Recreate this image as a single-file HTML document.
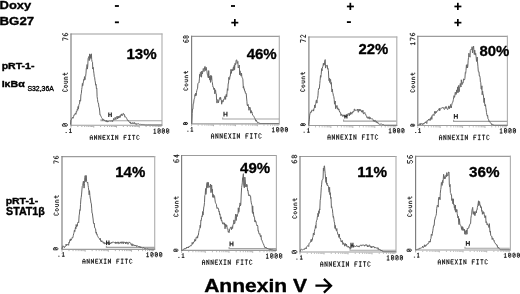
<!DOCTYPE html>
<html><head><meta charset="utf-8"><style>
html,body{margin:0;padding:0;background:#fff;}
body{width:520px;height:294px;overflow:hidden;}
svg{display:block;filter:grayscale(100%);}
</style></head><body>
<svg width="520" height="294" viewBox="0 0 520 294">
<rect width="520" height="294" fill="#fff"/>
<text transform="translate(-0.43,8.71) scale(0.1297,0.1164)" font-family="Liberation Sans" font-weight="bold" font-size="100" fill="#000" stroke="#000" stroke-width="3.006134969325154" stroke-linejoin="round">Doxy</text>
<text transform="translate(-0.45,24.91) scale(0.1326,0.1106)" font-family="Liberation Sans" font-weight="bold" font-size="100" fill="#000" stroke="#000" stroke-width="3.165605095541402" stroke-linejoin="round">BG27</text>
<rect x="114.9" y="5.1" width="4.0" height="1.8" fill="#000"/>
<rect x="114.9" y="21.4" width="4.0" height="1.8" fill="#000"/>
<rect x="231.0" y="5.1" width="4.0" height="1.8" fill="#000"/>
<rect x="231.3" y="21.8" width="7" height="1.7" fill="#000"/><rect x="234.0" y="19.0" width="1.7" height="7.2" fill="#000"/>
<rect x="346.9" y="5.6" width="7" height="1.7" fill="#000"/><rect x="349.5" y="2.8" width="1.7" height="7.2" fill="#000"/>
<rect x="346.9" y="21.2" width="4.0" height="1.8" fill="#000"/>
<rect x="454.4" y="5.6" width="7" height="1.7" fill="#000"/><rect x="457.0" y="2.8" width="1.7" height="7.2" fill="#000"/>
<rect x="454.4" y="21.8" width="7" height="1.7" fill="#000"/><rect x="457.0" y="19.0" width="1.7" height="7.2" fill="#000"/>
<text transform="translate(1.63,68.92) scale(0.1058,0.0920)" font-family="Liberation Sans" font-weight="bold" font-size="100" fill="#000" stroke="#000" stroke-width="3.8031496062992116" stroke-linejoin="round">pRT-1-</text>
<text transform="translate(1.63,87.13) scale(0.1065,0.0936)" font-family="Liberation Sans" font-weight="bold" font-size="100" fill="#000" stroke="#000" stroke-width="3.7404580152671687" stroke-linejoin="round">IκBα</text>
<text transform="translate(27.46,90.60) scale(0.0688,0.0671)" font-family="Liberation Sans" font-weight="normal" font-size="100" fill="#000" stroke="#000" stroke-width="5" stroke-linejoin="round">S32,36A</text>
<text transform="translate(5.64,203.52) scale(0.1048,0.0964)" font-family="Liberation Sans" font-weight="bold" font-size="100" fill="#000" stroke="#000" stroke-width="3.6315789473684332" stroke-linejoin="round">pRT-1-</text>
<text transform="translate(6.05,215.42) scale(0.1069,0.1007)" font-family="Liberation Sans" font-weight="bold" font-size="100" fill="#000" stroke="#000" stroke-width="3.475524475524486" stroke-linejoin="round">STAT1β</text>
<text transform="translate(204.14,292.14) scale(0.2104,0.1884)" font-family="Liberation Sans" font-weight="bold" font-size="100" fill="#000" stroke="#000" stroke-width="1.858181818181818" stroke-linejoin="round">Annexin V</text>
<path d="M315.4,285.7 H330.5 M323.9,278.9 L331.0,285.7 L323.9,292.6" fill="none" stroke="#000" stroke-width="2.3" stroke-linecap="butt" stroke-linejoin="miter"/>
<path d="M70.5,34.0 H162.5 M70.5,125.2 H162.5" stroke="#9c9c9c" stroke-width="1.15" fill="none"/>
<path d="M71.0,33.5 V125.7" stroke="#7c7c7c" stroke-width="1.15" fill="none"/>
<path d="M162.0,33.5 V125.7" stroke="#b0b0b0" stroke-width="1.15" fill="none"/>
<path d="M101.0,119.2 V120.7 H162.0" fill="none" stroke="#a4a4a4" stroke-width="1.15"/>
<polyline points="70.5,124.5 70.9,120.1 71.2,119.9 71.6,119.3 71.9,118.3 72.3,117.7 72.7,117.2 73.0,118.3 73.4,117.0 73.7,116.3 74.1,114.7 74.5,114.9 74.8,114.9 75.2,113.5 75.5,113.1 75.9,114.3 76.3,111.7 76.6,112.1 77.0,110.4 77.3,109.2 77.7,110.3 78.1,106.5 78.4,108.8 78.8,105.3 79.1,104.4 79.5,103.9 79.9,100.0 80.2,101.3 80.6,100.7 80.9,95.0 81.3,93.6 81.7,89.5 82.0,87.5 82.4,83.4 82.7,85.8 83.1,83.7 83.5,81.1 83.8,79.4 84.2,80.2 84.5,76.6 84.9,79.8 85.3,77.4 85.6,76.5 86.0,73.1 86.3,68.3 86.7,68.4 87.1,64.5 87.4,69.1 87.8,65.6 88.1,58.6 88.5,57.4 88.9,56.5 89.2,60.6 89.6,53.9 89.9,59.3 90.3,54.6 90.7,58.0 91.0,56.0 91.4,53.8 91.7,59.6 92.1,61.6 92.5,62.2 92.8,69.0 93.2,67.3 93.5,70.2 93.9,73.2 94.3,76.8 94.6,77.2 95.0,80.6 95.3,82.0 95.7,85.2 96.1,84.4 96.4,88.6 96.8,88.0 97.1,96.7 97.5,99.3 97.9,102.3 98.2,102.7 98.6,104.1 98.9,107.0 99.3,107.8 99.7,111.0 100.0,115.1 100.4,114.9 100.7,115.7 101.1,116.5 101.5,117.5 101.8,117.9 102.2,118.4 102.5,120.4 102.9,120.0 103.3,119.4 103.6,119.2 104.0,120.8 104.3,120.8 104.7,120.2 105.1,120.4 105.4,120.9 105.8,121.5 106.1,120.5 106.5,120.5 106.9,122.0 107.2,122.1 107.6,120.9 107.9,121.2 108.3,121.9 108.7,121.5 109.0,121.3 109.4,120.8 109.7,121.1 110.1,121.1 110.5,121.0 110.8,121.2 111.2,121.2 111.5,121.2 111.9,120.6 112.3,121.3 112.6,121.7 113.0,120.0 113.3,120.0 113.7,118.4 114.1,119.2 114.4,119.7 114.8,119.6 115.1,117.3 115.5,117.9 115.9,119.6 116.2,118.5 116.6,117.7 116.9,116.4 117.3,117.7 117.7,119.0 118.0,116.1 118.4,117.9 118.7,116.6 119.1,117.8 119.5,116.4 119.8,115.7 120.2,117.4 120.5,116.3 120.9,114.7 121.3,115.4 121.6,113.9 122.0,115.2 122.3,115.6 122.7,115.4 123.1,113.4 123.4,113.4 123.8,114.4 124.1,114.1 124.5,114.5 124.9,117.2 125.2,117.1 125.6,116.8 125.9,117.1 126.3,117.7 126.7,118.5 127.0,119.5 127.4,119.6 127.7,120.2 128.1,121.0 128.5,120.7 128.8,121.6 129.2,121.8 129.5,121.9 129.9,122.7 130.3,121.9 130.6,123.4 131.0,122.8 131.3,123.7 131.7,123.2 132.1,123.6 132.4,123.5 132.8,122.5 133.1,123.5 133.5,123.3 133.9,123.6 134.2,122.8 134.6,122.5 134.9,124.0 135.3,124.2 135.7,124.0 136.0,123.3 136.4,123.8 136.7,124.6 137.1,124.3 137.5,123.8 137.8,124.0 138.2,123.6 138.5,124.0 138.9,124.2 139.3,124.4 139.6,124.4 140.0,124.6 140.3,124.4 140.7,124.2 141.1,124.6 141.4,124.5 141.8,124.4 142.1,124.3 142.5,124.5 142.9,124.6 143.2,124.5 143.6,124.6 143.9,124.7 144.3,124.8 144.7,124.6 145.0,124.8 145.4,124.9 145.7,124.8 146.1,124.8 146.5,124.9 146.8,124.8 147.2,124.9 147.5,124.9 147.9,124.8 148.3,124.8 148.6,124.8 149.0,124.8 149.3,124.8 149.7,124.9 150.1,124.8 150.4,124.8 150.8,124.9 151.1,124.9 151.5,124.9 151.9,124.9 152.2,124.9 152.6,124.9 152.9,124.9 153.3,124.9 153.7,124.9 154.0,124.9 154.4,124.9 154.7,124.9 155.1,124.9 155.5,124.9 155.8,124.9 156.2,124.9 156.5,124.9 156.9,124.9 157.3,124.9 157.6,124.9 158.0,124.9 158.3,124.9 158.7,124.9 159.1,124.9 159.4,124.9 159.8,124.9 160.1,124.9 160.5,124.9 160.9,124.9 161.2,124.9 161.6,124.9 161.9,124.9" fill="none" stroke="#666" stroke-width="1.0" stroke-linejoin="round" opacity="1.0"/>
<text transform="translate(126.45,59.30) scale(0.1508,0.1451)" font-family="Liberation Sans" font-weight="bold" font-size="100" fill="#000" stroke="#000" stroke-width="2.0679611650485428" stroke-linejoin="round">13%</text>
<path d="M71.00,126.00 v1.6 M77.85,126.00 v1.0 M81.85,126.00 v1.0 M84.70,126.00 v1.0 M86.90,126.00 v1.0 M88.70,126.00 v1.0 M90.23,126.00 v1.0 M91.55,126.00 v1.0 M92.71,126.00 v1.0 M93.75,126.00 v1.6 M100.60,126.00 v1.0 M104.60,126.00 v1.0 M107.45,126.00 v1.0 M109.65,126.00 v1.0 M111.45,126.00 v1.0 M112.98,126.00 v1.0 M114.30,126.00 v1.0 M115.46,126.00 v1.0 M116.50,126.00 v1.6 M123.35,126.00 v1.0 M127.35,126.00 v1.0 M130.20,126.00 v1.0 M132.40,126.00 v1.0 M134.20,126.00 v1.0 M135.73,126.00 v1.0 M137.05,126.00 v1.0 M138.21,126.00 v1.0 M139.25,126.00 v1.6 M146.10,126.00 v1.0 M150.10,126.00 v1.0 M152.95,126.00 v1.0 M155.15,126.00 v1.0 M156.95,126.00 v1.0 M158.48,126.00 v1.0 M159.80,126.00 v1.0 M160.96,126.00 v1.0" stroke="#9a9a9a" stroke-width="0.8" fill="none"/>
<path transform="matrix(0,-1.1417,1.2375,0,62.775,40.225)" d="M0,0 H2 V0.5 L0.8,4 M5.8,0 H4.7 L4,0.8 V3.5 L4.5,4 H5.5 L6,3.5 V2.3 L5.5,1.8 H4" fill="none" stroke="#2a2a2a" stroke-width="0.95" vector-effect="non-scaling-stroke" stroke-linecap="square" stroke-linejoin="miter"/>
<path transform="matrix(0,-1.0083,1.2125,0,62.575,91.325)" d="M2,0.6 L1.5,0 H0.5 L0,0.6 V3.4 L0.5,4 H1.5 L2,3.4 M4.5,1.5 H5.5 L6,2 V3.5 L5.5,4 H4.5 L4,3.5 V2 Z M8,1.5 V3.5 L8.5,4 H10 V1.5 M12,4 V1.5 H13.5 L14,2 V4 M16.9,0.4 V3.5 L17.4,4 H18 M16,1.5 H17.9" fill="none" stroke="#2a2a2a" stroke-width="0.95" vector-effect="non-scaling-stroke" stroke-linecap="square" stroke-linejoin="miter"/>
<path transform="matrix(1.0576,0,0,1.0125,90.275,135.375)" d="M0,4 V1 L0.7,0 H1.3 L2,1 V4 M0,2.3 H2 M4,4 V0 L6,4 V0 M8,4 V0 L10,4 V0 M14,0 H12 V4 H14 M12,2 H13.5 M16,0 L18,4 M18,0 L16,4 M20.2,0 H21.8 M21,0 V4 M20.2,4 H21.8 M24,4 V0 L26,4 V0 M34,0 H32 V4 M32,2 H33.5 M36.2,0 H37.8 M37,0 V4 M36.2,4 H37.8 M40,0 H42 M41,0 V4 M46,0.6 L45.5,0 H44.5 L44,0.6 V3.4 L44.5,4 H45.5 L46,3.4" fill="none" stroke="#2a2a2a" stroke-width="0.95" vector-effect="non-scaling-stroke" stroke-linecap="square" stroke-linejoin="miter"/>
<path transform="matrix(1.0714,0,0,0.9875,65.111,128.575)" d="M0.9,4 H1.1 M4.3,0.8 L5,0 V4 M4.2,4 H5.8" fill="none" stroke="#2a2a2a" stroke-width="0.95" vector-effect="non-scaling-stroke" stroke-linecap="square" stroke-linejoin="miter"/>
<path transform="matrix(1.0688,0,0,1.1375,153.761,128.775)" d="M0.3,0.8 L1,0 V4 M0.2,4 H1.8 M4.5,0 H5.5 L6,0.5 V3.5 L5.5,4 H4.5 L4,3.5 V0.5 Z M5.6,1 L4.4,3 M8.5,0 H9.5 L10,0.5 V3.5 L9.5,4 H8.5 L8,3.5 V0.5 Z M9.6,1 L8.4,3 M12.5,0 H13.5 L14,0.5 V3.5 L13.5,4 H12.5 L12,3.5 V0.5 Z M13.6,1 L12.4,3" fill="none" stroke="#2a2a2a" stroke-width="0.95" vector-effect="non-scaling-stroke" stroke-linecap="square" stroke-linejoin="miter"/>
<path transform="matrix(0,-1.2250,1.2125,0,62.475,126.125)" d="M0.5,0 H1.5 L2,0.5 V3.5 L1.5,4 H0.5 L0,3.5 V0.5 Z M1.6,1 L0.4,3" fill="none" stroke="#2a2a2a" stroke-width="0.95" vector-effect="non-scaling-stroke" stroke-linecap="square" stroke-linejoin="miter"/>
<path transform="matrix(1.2750,0,0,0.8125,108.775,113.075)" d="M0,0 V4 M2,0 V4 M0,2 H2" fill="none" stroke="#2a2a2a" stroke-width="1.15" vector-effect="non-scaling-stroke" stroke-linecap="square" stroke-linejoin="miter"/>
<path d="M191.1,36.3 H279.8 M191.1,123.8 H279.8" stroke="#9c9c9c" stroke-width="1.15" fill="none"/>
<path d="M191.6,35.8 V124.3" stroke="#7c7c7c" stroke-width="1.15" fill="none"/>
<path d="M279.3,35.8 V124.3" stroke="#b0b0b0" stroke-width="1.15" fill="none"/>
<path d="M222.7,117.5 V119.0 H279.3" fill="none" stroke="#a4a4a4" stroke-width="1.15"/>
<polyline points="191.8,123.5 192.2,113.6 192.5,109.0 192.9,109.2 193.2,103.6 193.6,103.6 194.0,99.8 194.3,98.8 194.7,97.4 195.0,94.5 195.4,95.9 195.8,93.0 196.1,95.6 196.5,92.3 196.8,90.5 197.2,89.3 197.6,88.2 197.9,83.7 198.3,83.1 198.6,82.8 199.0,82.9 199.4,78.9 199.7,74.3 200.1,76.6 200.4,72.5 200.8,71.9 201.2,72.7 201.5,77.2 201.9,71.0 202.2,74.0 202.6,72.7 203.0,70.3 203.3,68.5 203.7,69.3 204.0,71.6 204.4,69.2 204.8,66.6 205.1,66.4 205.5,70.5 205.8,68.6 206.2,67.3 206.6,70.0 206.9,70.9 207.3,74.1 207.6,75.2 208.0,76.9 208.4,77.9 208.7,70.6 209.1,77.8 209.4,76.2 209.8,80.1 210.2,76.5 210.5,82.4 210.9,75.2 211.2,79.6 211.6,76.0 212.0,81.5 212.3,82.2 212.7,85.3 213.0,87.1 213.4,87.2 213.8,89.5 214.1,88.8 214.5,88.1 214.8,93.8 215.2,89.8 215.6,90.2 215.9,93.7 216.3,93.8 216.6,100.5 217.0,103.1 217.4,100.2 217.7,99.6 218.1,100.5 218.4,102.8 218.8,101.0 219.2,99.6 219.5,98.4 219.9,97.5 220.2,99.5 220.6,97.3 221.0,99.5 221.3,100.3 221.7,104.2 222.0,100.2 222.4,102.1 222.8,101.9 223.1,102.0 223.5,99.8 223.8,99.0 224.2,99.4 224.6,97.1 224.9,96.2 225.3,96.4 225.6,99.4 226.0,94.7 226.4,94.3 226.7,96.8 227.1,92.0 227.4,88.7 227.8,90.4 228.2,83.3 228.5,83.5 228.9,77.3 229.2,79.4 229.6,79.4 230.0,75.9 230.3,76.0 230.7,71.7 231.0,69.3 231.4,73.4 231.8,69.9 232.1,69.3 232.5,69.5 232.8,71.0 233.2,67.8 233.6,66.8 233.9,70.2 234.3,65.1 234.6,69.6 235.0,63.4 235.4,64.9 235.7,64.4 236.1,60.7 236.4,59.9 236.8,59.9 237.2,63.5 237.5,62.3 237.9,61.5 238.2,68.0 238.6,67.2 239.0,66.8 239.3,65.0 239.7,74.8 240.0,70.8 240.4,74.4 240.8,73.8 241.1,76.1 241.5,73.1 241.8,76.4 242.2,77.6 242.6,78.4 242.9,79.7 243.3,88.0 243.6,86.2 244.0,89.2 244.4,88.8 244.7,91.1 245.1,91.0 245.4,93.4 245.8,93.2 246.2,93.3 246.5,97.0 246.9,101.2 247.2,105.0 247.6,106.0 248.0,104.3 248.3,105.3 248.7,108.5 249.0,110.3 249.4,107.3 249.8,108.2 250.1,107.5 250.5,110.9 250.8,113.2 251.2,110.5 251.6,112.6 251.9,111.9 252.3,113.4 252.6,115.0 253.0,115.3 253.4,115.8 253.7,116.4 254.1,116.6 254.4,117.5 254.8,118.4 255.2,119.0 255.5,120.0 255.9,121.2 256.2,120.1 256.6,120.8 257.0,122.1 257.3,122.1 257.7,122.8 258.0,122.6 258.4,122.5 258.8,123.0 259.1,123.4 259.5,123.2 259.8,123.3 260.2,123.5 260.6,123.5 260.9,123.5 261.3,123.5 261.6,123.5 262.0,123.5 262.4,123.5 262.7,123.5 263.1,123.5 263.4,123.5 263.8,123.5 264.2,123.5 264.5,123.5 264.9,123.5 265.2,123.5 265.6,123.5 266.0,123.5 266.3,123.5 266.7,123.5 267.0,123.5 267.4,123.5 267.8,123.5 268.1,123.5 268.5,123.5 268.8,123.5 269.2,123.5 269.6,123.5 269.9,123.5 270.3,123.5 270.6,123.5 271.0,123.5 271.4,123.5 271.7,123.5 272.1,123.5 272.4,123.5 272.8,123.5 273.2,123.5 273.5,123.5 273.9,123.5 274.2,123.5 274.6,123.5 275.0,123.5 275.3,123.5 275.7,123.5 276.0,123.5 276.4,123.5 276.8,123.5 277.1,123.5 277.5,123.5 277.8,123.5 278.2,123.5 278.6,123.5 278.9,123.5" fill="none" stroke="#666" stroke-width="1.0" stroke-linejoin="round" opacity="1.0"/>
<text transform="translate(246.65,59.30) scale(0.1503,0.1451)" font-family="Liberation Sans" font-weight="bold" font-size="100" fill="#000" stroke="#000" stroke-width="2.0679611650485428" stroke-linejoin="round">46%</text>
<path d="M191.60,124.60 v1.6 M198.20,124.60 v1.0 M202.06,124.60 v1.0 M204.80,124.60 v1.0 M206.92,124.60 v1.0 M208.66,124.60 v1.0 M210.13,124.60 v1.0 M211.40,124.60 v1.0 M212.52,124.60 v1.0 M213.53,124.60 v1.6 M220.13,124.60 v1.0 M223.99,124.60 v1.0 M226.73,124.60 v1.0 M228.85,124.60 v1.0 M230.59,124.60 v1.0 M232.05,124.60 v1.0 M233.33,124.60 v1.0 M234.45,124.60 v1.0 M235.45,124.60 v1.6 M242.05,124.60 v1.0 M245.91,124.60 v1.0 M248.65,124.60 v1.0 M250.77,124.60 v1.0 M252.51,124.60 v1.0 M253.98,124.60 v1.0 M255.25,124.60 v1.0 M256.37,124.60 v1.0 M257.38,124.60 v1.6 M263.98,124.60 v1.0 M267.84,124.60 v1.0 M270.58,124.60 v1.0 M272.70,124.60 v1.0 M274.44,124.60 v1.0 M275.90,124.60 v1.0 M277.18,124.60 v1.0 M278.30,124.60 v1.0" stroke="#9a9a9a" stroke-width="0.8" fill="none"/>
<path transform="matrix(0,-1.0250,1.2625,0,183.475,42.125)" d="M1.8,0 H0.7 L0,0.8 V3.5 L0.5,4 H1.5 L2,3.5 V2.3 L1.5,1.8 H0 M4.5,0 H5.5 L6,0.5 V1.5 L5.5,2 H4.5 L4,1.5 V0.5 Z M4.5,2 L4,2.5 V3.5 L4.5,4 H5.5 L6,3.5 V2.5 L5.5,2" fill="none" stroke="#2a2a2a" stroke-width="0.95" vector-effect="non-scaling-stroke" stroke-linecap="square" stroke-linejoin="miter"/>
<path transform="matrix(0,-1.0361,0.9625,0,183.775,90.125)" d="M2,0.6 L1.5,0 H0.5 L0,0.6 V3.4 L0.5,4 H1.5 L2,3.4 M4.5,1.5 H5.5 L6,2 V3.5 L5.5,4 H4.5 L4,3.5 V2 Z M8,1.5 V3.5 L8.5,4 H10 V1.5 M12,4 V1.5 H13.5 L14,2 V4 M16.9,0.4 V3.5 L17.4,4 H18 M16,1.5 H17.9" fill="none" stroke="#2a2a2a" stroke-width="0.95" vector-effect="non-scaling-stroke" stroke-linecap="square" stroke-linejoin="miter"/>
<path transform="matrix(1.0772,0,0,1.1375,211.475,133.675)" d="M0,4 V1 L0.7,0 H1.3 L2,1 V4 M0,2.3 H2 M4,4 V0 L6,4 V0 M8,4 V0 L10,4 V0 M14,0 H12 V4 H14 M12,2 H13.5 M16,0 L18,4 M18,0 L16,4 M20.2,0 H21.8 M21,0 V4 M20.2,4 H21.8 M24,4 V0 L26,4 V0 M34,0 H32 V4 M32,2 H33.5 M36.2,0 H37.8 M37,0 V4 M36.2,4 H37.8 M40,0 H42 M41,0 V4 M46,0.6 L45.5,0 H44.5 L44,0.6 V3.4 L44.5,4 H45.5 L46,3.4" fill="none" stroke="#2a2a2a" stroke-width="0.95" vector-effect="non-scaling-stroke" stroke-linecap="square" stroke-linejoin="miter"/>
<path transform="matrix(1.0102,0,0,0.9875,186.866,127.275)" d="M0.9,4 H1.1 M4.3,0.8 L5,0 V4 M4.2,4 H5.8" fill="none" stroke="#2a2a2a" stroke-width="0.95" vector-effect="non-scaling-stroke" stroke-linecap="square" stroke-linejoin="miter"/>
<path transform="matrix(1.0906,0,0,1.0875,272.257,127.475)" d="M0.3,0.8 L1,0 V4 M0.2,4 H1.8 M4.5,0 H5.5 L6,0.5 V3.5 L5.5,4 H4.5 L4,3.5 V0.5 Z M5.6,1 L4.4,3 M8.5,0 H9.5 L10,0.5 V3.5 L9.5,4 H8.5 L8,3.5 V0.5 Z M9.6,1 L8.4,3 M12.5,0 H13.5 L14,0.5 V3.5 L13.5,4 H12.5 L12,3.5 V0.5 Z M13.6,1 L12.4,3" fill="none" stroke="#2a2a2a" stroke-width="0.95" vector-effect="non-scaling-stroke" stroke-linecap="square" stroke-linejoin="miter"/>
<path transform="matrix(0,-1.0250,1.0125,0,183.475,124.525)" d="M0.5,0 H1.5 L2,0.5 V3.5 L1.5,4 H0.5 L0,3.5 V0.5 Z M1.6,1 L0.4,3" fill="none" stroke="#2a2a2a" stroke-width="0.95" vector-effect="non-scaling-stroke" stroke-linecap="square" stroke-linejoin="miter"/>
<path transform="matrix(1.4750,0,0,0.9125,223.975,112.375)" d="M0,0 V4 M2,0 V4 M0,2 H2" fill="none" stroke="#2a2a2a" stroke-width="1.15" vector-effect="non-scaling-stroke" stroke-linecap="square" stroke-linejoin="miter"/>
<path d="M308.4,37.0 H397.3 M308.4,125.5 H397.3" stroke="#9c9c9c" stroke-width="1.15" fill="none"/>
<path d="M308.9,36.5 V126.0" stroke="#7c7c7c" stroke-width="1.15" fill="none"/>
<path d="M396.8,36.5 V126.0" stroke="#b0b0b0" stroke-width="1.15" fill="none"/>
<path d="M343.6,119.6 V121.1 H396.5" fill="none" stroke="#a4a4a4" stroke-width="1.15"/>
<polyline points="308.6,124.8 309.0,121.6 309.3,119.8 309.7,115.1 310.0,113.8 310.4,112.4 310.8,112.9 311.1,111.6 311.5,112.1 311.8,110.1 312.2,110.4 312.6,110.1 312.9,110.4 313.3,109.7 313.6,111.1 314.0,108.2 314.4,108.0 314.7,105.0 315.1,107.8 315.4,104.1 315.8,103.8 316.2,100.6 316.5,100.1 316.9,103.1 317.2,99.4 317.6,98.3 318.0,95.3 318.3,90.5 318.7,88.6 319.0,89.0 319.4,88.0 319.8,83.4 320.1,80.4 320.5,75.6 320.8,77.3 321.2,74.4 321.6,68.6 321.9,71.0 322.3,68.6 322.6,66.8 323.0,66.2 323.4,63.2 323.7,65.2 324.1,65.0 324.4,64.8 324.8,60.7 325.2,59.6 325.5,68.1 325.9,67.2 326.2,65.4 326.6,65.9 327.0,65.4 327.3,65.3 327.7,69.1 328.0,68.5 328.4,70.6 328.8,78.7 329.1,80.8 329.5,78.0 329.8,82.5 330.2,79.5 330.6,79.3 330.9,84.2 331.3,82.5 331.6,87.1 332.0,92.0 332.4,89.2 332.7,92.5 333.1,93.9 333.4,95.9 333.8,96.6 334.2,99.4 334.5,104.2 334.9,103.0 335.2,101.0 335.6,108.7 336.0,105.7 336.3,107.4 336.7,106.5 337.0,105.5 337.4,109.1 337.8,107.8 338.1,109.1 338.5,110.1 338.8,108.9 339.2,110.3 339.6,112.1 339.9,112.3 340.3,112.2 340.6,112.6 341.0,115.7 341.4,114.1 341.7,114.4 342.1,115.1 342.4,115.4 342.8,116.5 343.2,114.8 343.5,115.9 343.9,116.0 344.2,115.4 344.6,116.6 345.0,115.7 345.3,115.7 345.7,116.4 346.0,116.2 346.4,114.6 346.8,115.3 347.1,114.5 347.5,115.5 347.8,114.8 348.2,113.4 348.6,113.8 348.9,113.8 349.3,115.9 349.6,113.3 350.0,113.6 350.4,114.6 350.7,112.1 351.1,112.4 351.4,113.3 351.8,114.2 352.2,112.4 352.5,113.0 352.9,111.6 353.2,111.2 353.6,111.9 354.0,111.5 354.3,109.0 354.7,109.0 355.0,110.6 355.4,110.1 355.8,110.3 356.1,110.1 356.5,110.0 356.8,110.3 357.2,110.6 357.6,109.0 357.9,110.4 358.3,112.3 358.6,111.4 359.0,109.0 359.4,110.8 359.7,110.6 360.1,109.3 360.4,110.5 360.8,109.9 361.2,110.9 361.5,111.9 361.9,110.7 362.2,112.4 362.6,110.7 363.0,110.2 363.3,113.3 363.7,114.1 364.0,113.1 364.4,113.1 364.8,112.5 365.1,113.5 365.5,114.5 365.8,114.4 366.2,115.8 366.6,116.7 366.9,117.5 367.3,116.8 367.6,117.0 368.0,118.5 368.4,117.5 368.7,118.2 369.1,116.7 369.4,118.8 369.8,119.1 370.2,117.4 370.5,118.5 370.9,119.0 371.2,118.9 371.6,119.0 372.0,118.5 372.3,118.8 372.7,119.1 373.0,119.6 373.4,121.1 373.8,120.2 374.1,121.5 374.5,121.4 374.8,120.4 375.2,120.3 375.6,121.4 375.9,122.2 376.3,122.4 376.6,121.4 377.0,122.7 377.4,122.8 377.7,122.2 378.1,123.1 378.4,123.8 378.8,123.6 379.2,123.9 379.5,124.4 379.9,123.9 380.2,124.1 380.6,124.2 381.0,124.2 381.3,124.1 381.7,124.1 382.0,124.3 382.4,124.6 382.8,124.5 383.1,125.0 383.5,124.6 383.8,125.0 384.2,125.2 384.6,125.2 384.9,125.2 385.3,125.2 385.6,125.2 386.0,125.2 386.4,125.2 386.7,125.2 387.1,125.2 387.4,125.2 387.8,125.2 388.2,125.2 388.5,125.2 388.9,125.2 389.2,125.2 389.6,125.2 390.0,125.2 390.3,125.2 390.7,125.2 391.0,125.2 391.4,125.2 391.8,125.2 392.1,125.2 392.5,125.2 392.8,125.2 393.2,125.2 393.6,125.2 393.9,125.2 394.3,125.2 394.6,125.2 395.0,125.2 395.4,125.2 395.7,125.2 396.1,125.2 396.4,125.2 396.8,125.2" fill="none" stroke="#666" stroke-width="1.0" stroke-linejoin="round" opacity="1.0"/>
<text transform="translate(358.50,53.51) scale(0.1490,0.1437)" font-family="Liberation Sans" font-weight="bold" font-size="100" fill="#000" stroke="#000" stroke-width="2.0882352941176467" stroke-linejoin="round">22%</text>
<path d="M308.90,126.30 v1.6 M315.52,126.30 v1.0 M319.38,126.30 v1.0 M322.13,126.30 v1.0 M324.26,126.30 v1.0 M326.00,126.30 v1.0 M327.47,126.30 v1.0 M328.75,126.30 v1.0 M329.87,126.30 v1.0 M330.88,126.30 v1.6 M337.49,126.30 v1.0 M341.36,126.30 v1.0 M344.11,126.30 v1.0 M346.23,126.30 v1.0 M347.97,126.30 v1.0 M349.45,126.30 v1.0 M350.72,126.30 v1.0 M351.84,126.30 v1.0 M352.85,126.30 v1.6 M359.47,126.30 v1.0 M363.33,126.30 v1.0 M366.08,126.30 v1.0 M368.21,126.30 v1.0 M369.95,126.30 v1.0 M371.42,126.30 v1.0 M372.70,126.30 v1.0 M373.82,126.30 v1.0 M374.82,126.30 v1.6 M381.44,126.30 v1.0 M385.31,126.30 v1.0 M388.06,126.30 v1.0 M390.18,126.30 v1.0 M391.92,126.30 v1.0 M393.40,126.30 v1.0 M394.67,126.30 v1.0 M395.79,126.30 v1.0" stroke="#9a9a9a" stroke-width="0.8" fill="none"/>
<path transform="matrix(0,-1.1417,1.2625,0,300.475,42.125)" d="M0,0 H2 V0.5 L0.8,4 M4,0.6 L4.5,0 H5.5 L6,0.6 V1.4 L4,4 H6" fill="none" stroke="#2a2a2a" stroke-width="0.95" vector-effect="non-scaling-stroke" stroke-linecap="square" stroke-linejoin="miter"/>
<path transform="matrix(0,-1.0417,1.0125,0,300.575,91.325)" d="M2,0.6 L1.5,0 H0.5 L0,0.6 V3.4 L0.5,4 H1.5 L2,3.4 M4.5,1.5 H5.5 L6,2 V3.5 L5.5,4 H4.5 L4,3.5 V2 Z M8,1.5 V3.5 L8.5,4 H10 V1.5 M12,4 V1.5 H13.5 L14,2 V4 M16.9,0.4 V3.5 L17.4,4 H18 M16,1.5 H17.9" fill="none" stroke="#2a2a2a" stroke-width="0.95" vector-effect="non-scaling-stroke" stroke-linecap="square" stroke-linejoin="miter"/>
<path transform="matrix(1.0772,0,0,1.1375,327.975,134.775)" d="M0,4 V1 L0.7,0 H1.3 L2,1 V4 M0,2.3 H2 M4,4 V0 L6,4 V0 M8,4 V0 L10,4 V0 M14,0 H12 V4 H14 M12,2 H13.5 M16,0 L18,4 M18,0 L16,4 M20.2,0 H21.8 M21,0 V4 M20.2,4 H21.8 M24,4 V0 L26,4 V0 M34,0 H32 V4 M32,2 H33.5 M36.2,0 H37.8 M37,0 V4 M36.2,4 H37.8 M40,0 H42 M41,0 V4 M46,0.6 L45.5,0 H44.5 L44,0.6 V3.4 L44.5,4 H45.5 L46,3.4" fill="none" stroke="#2a2a2a" stroke-width="0.95" vector-effect="non-scaling-stroke" stroke-linecap="square" stroke-linejoin="miter"/>
<path transform="matrix(1.0714,0,0,0.9875,303.111,128.275)" d="M0.9,4 H1.1 M4.3,0.8 L5,0 V4 M4.2,4 H5.8" fill="none" stroke="#2a2a2a" stroke-width="0.95" vector-effect="non-scaling-stroke" stroke-linecap="square" stroke-linejoin="miter"/>
<path transform="matrix(1.0688,0,0,1.0875,389.061,128.475)" d="M0.3,0.8 L1,0 V4 M0.2,4 H1.8 M4.5,0 H5.5 L6,0.5 V3.5 L5.5,4 H4.5 L4,3.5 V0.5 Z M5.6,1 L4.4,3 M8.5,0 H9.5 L10,0.5 V3.5 L9.5,4 H8.5 L8,3.5 V0.5 Z M9.6,1 L8.4,3 M12.5,0 H13.5 L14,0.5 V3.5 L13.5,4 H12.5 L12,3.5 V0.5 Z M13.6,1 L12.4,3" fill="none" stroke="#2a2a2a" stroke-width="0.95" vector-effect="non-scaling-stroke" stroke-linecap="square" stroke-linejoin="miter"/>
<path transform="matrix(0,-0.9250,1.1375,0,300.775,125.525)" d="M0.5,0 H1.5 L2,0.5 V3.5 L1.5,4 H0.5 L0,3.5 V0.5 Z M1.6,1 L0.4,3" fill="none" stroke="#2a2a2a" stroke-width="0.95" vector-effect="non-scaling-stroke" stroke-linecap="square" stroke-linejoin="miter"/>
<path transform="matrix(1.0250,0,0,0.6375,344.875,115.275)" d="M0,0 V4 M2,0 V4 M0,2 H2" fill="none" stroke="#2a2a2a" stroke-width="1.15" vector-effect="non-scaling-stroke" stroke-linecap="square" stroke-linejoin="miter"/>
<path d="M417.3,36.3 H507.9 M417.3,125.5 H507.9" stroke="#9c9c9c" stroke-width="1.15" fill="none"/>
<path d="M417.8,35.8 V126.0" stroke="#7c7c7c" stroke-width="1.15" fill="none"/>
<path d="M507.4,35.8 V126.0" stroke="#b0b0b0" stroke-width="1.15" fill="none"/>
<path d="M453.6,119.8 V121.3 H507.3" fill="none" stroke="#a4a4a4" stroke-width="1.15"/>
<polyline points="418.5,125.2 418.9,125.0 419.2,123.9 419.6,124.1 419.9,124.5 420.3,123.4 420.7,124.9 421.0,124.0 421.4,123.5 421.7,123.6 422.1,123.9 422.5,124.0 422.8,124.7 423.2,123.1 423.5,123.7 423.9,123.6 424.3,123.7 424.6,123.0 425.0,122.3 425.3,122.9 425.7,122.0 426.1,121.5 426.4,122.7 426.8,123.5 427.1,120.8 427.5,120.1 427.9,120.6 428.2,120.4 428.6,119.1 428.9,119.7 429.3,119.3 429.7,119.0 430.0,120.6 430.4,119.9 430.7,117.8 431.1,117.4 431.5,116.7 431.8,119.4 432.2,115.1 432.5,114.9 432.9,115.0 433.3,114.9 433.6,114.6 434.0,115.6 434.3,113.4 434.7,111.4 435.1,113.2 435.4,113.6 435.8,111.4 436.1,112.8 436.5,111.6 436.9,111.6 437.2,111.0 437.6,111.0 437.9,110.2 438.3,109.9 438.7,110.0 439.0,108.9 439.4,108.2 439.7,110.8 440.1,109.7 440.5,108.8 440.8,108.6 441.2,107.9 441.5,108.3 441.9,107.7 442.3,107.7 442.6,107.6 443.0,108.0 443.3,107.5 443.7,108.6 444.1,109.0 444.4,109.5 444.8,108.8 445.1,107.1 445.5,106.9 445.9,108.4 446.2,106.5 446.6,107.1 446.9,108.2 447.3,109.3 447.7,109.6 448.0,108.6 448.4,108.4 448.7,106.0 449.1,106.2 449.5,108.6 449.8,106.8 450.2,107.4 450.5,104.5 450.9,106.9 451.3,108.0 451.6,105.5 452.0,103.8 452.3,102.7 452.7,102.5 453.1,100.8 453.4,99.5 453.8,97.0 454.1,95.6 454.5,97.3 454.9,95.6 455.2,92.5 455.6,92.1 455.9,94.6 456.3,94.0 456.7,89.9 457.0,92.7 457.4,90.2 457.7,86.9 458.1,92.7 458.5,86.1 458.8,85.4 459.2,91.7 459.5,88.5 459.9,86.7 460.3,83.5 460.6,85.7 461.0,87.0 461.3,79.8 461.7,82.2 462.1,84.6 462.4,82.7 462.8,82.9 463.1,83.1 463.5,78.9 463.9,79.0 464.2,80.0 464.6,79.8 464.9,78.3 465.3,72.7 465.7,73.2 466.0,70.4 466.4,65.2 466.7,68.0 467.1,64.4 467.5,68.0 467.8,66.2 468.2,60.2 468.5,57.6 468.9,53.2 469.3,55.4 469.6,56.0 470.0,57.2 470.3,50.5 470.7,49.7 471.1,49.1 471.4,49.6 471.8,49.4 472.1,46.7 472.5,53.0 472.9,48.2 473.2,48.4 473.6,46.0 473.9,50.6 474.3,54.5 474.7,50.0 475.0,52.2 475.4,55.0 475.7,53.3 476.1,56.8 476.5,61.2 476.8,61.6 477.2,57.0 477.5,61.8 477.9,66.2 478.3,71.3 478.6,71.9 479.0,71.6 479.3,76.0 479.7,75.8 480.1,77.6 480.4,82.0 480.8,82.7 481.1,88.9 481.5,89.4 481.9,85.8 482.2,94.8 482.6,91.0 482.9,93.4 483.3,94.8 483.7,98.0 484.0,102.6 484.4,98.1 484.7,104.6 485.1,106.0 485.5,104.6 485.8,107.7 486.2,110.0 486.5,112.6 486.9,114.8 487.3,116.1 487.6,115.2 488.0,118.7 488.3,119.1 488.7,119.8 489.1,121.6 489.4,121.2 489.8,121.4 490.1,122.3 490.5,123.0 490.9,123.4 491.2,123.4 491.6,124.7 491.9,124.3 492.3,124.3 492.7,124.6 493.0,124.3 493.4,125.2 493.7,125.1 494.1,125.1 494.5,125.2 494.8,125.2 495.2,125.2 495.5,125.2 495.9,125.2 496.3,125.2 496.6,125.2 497.0,125.2 497.3,125.2 497.7,125.2 498.1,125.2 498.4,125.2 498.8,125.2 499.1,125.2 499.5,125.2 499.9,125.2 500.2,125.2 500.6,125.2 500.9,125.2 501.3,125.2 501.7,125.2 502.0,125.2 502.4,125.2 502.7,125.2 503.1,125.2 503.5,125.2 503.8,125.2 504.2,125.2 504.5,125.2 504.9,125.2 505.3,125.2 505.6,125.2 506.0,125.2 506.3,125.2 506.7,125.2 507.1,125.2 507.4,125.2" fill="none" stroke="#666" stroke-width="1.0" stroke-linejoin="round" opacity="1.0"/>
<text transform="translate(479.50,55.81) scale(0.1495,0.1437)" font-family="Liberation Sans" font-weight="bold" font-size="100" fill="#000" stroke="#000" stroke-width="2.0882352941176467" stroke-linejoin="round">80%</text>
<path d="M417.80,126.30 v1.6 M424.54,126.30 v1.0 M428.49,126.30 v1.0 M431.29,126.30 v1.0 M433.46,126.30 v1.0 M435.23,126.30 v1.0 M436.73,126.30 v1.0 M438.03,126.30 v1.0 M439.18,126.30 v1.0 M440.20,126.30 v1.6 M446.94,126.30 v1.0 M450.89,126.30 v1.0 M453.69,126.30 v1.0 M455.86,126.30 v1.0 M457.63,126.30 v1.0 M459.13,126.30 v1.0 M460.43,126.30 v1.0 M461.58,126.30 v1.0 M462.60,126.30 v1.6 M469.34,126.30 v1.0 M473.29,126.30 v1.0 M476.09,126.30 v1.0 M478.26,126.30 v1.0 M480.03,126.30 v1.0 M481.53,126.30 v1.0 M482.83,126.30 v1.0 M483.98,126.30 v1.0 M485.00,126.30 v1.6 M491.74,126.30 v1.0 M495.69,126.30 v1.0 M498.49,126.30 v1.0 M500.66,126.30 v1.0 M502.43,126.30 v1.0 M503.93,126.30 v1.0 M505.23,126.30 v1.0 M506.38,126.30 v1.0" stroke="#9a9a9a" stroke-width="0.8" fill="none"/>
<path transform="matrix(0,-1.1480,1.1125,0,410.275,44.755)" d="M0.3,0.8 L1,0 V4 M0.2,4 H1.8 M4,0 H6 V0.5 L4.8,4 M9.8,0 H8.7 L8,0.8 V3.5 L8.5,4 H9.5 L10,3.5 V2.3 L9.5,1.8 H8" fill="none" stroke="#2a2a2a" stroke-width="0.95" vector-effect="non-scaling-stroke" stroke-linecap="square" stroke-linejoin="miter"/>
<path transform="matrix(0,-1.0417,1.0125,0,410.575,91.925)" d="M2,0.6 L1.5,0 H0.5 L0,0.6 V3.4 L0.5,4 H1.5 L2,3.4 M4.5,1.5 H5.5 L6,2 V3.5 L5.5,4 H4.5 L4,3.5 V2 Z M8,1.5 V3.5 L8.5,4 H10 V1.5 M12,4 V1.5 H13.5 L14,2 V4 M16.9,0.4 V3.5 L17.4,4 H18 M16,1.5 H17.9" fill="none" stroke="#2a2a2a" stroke-width="0.95" vector-effect="non-scaling-stroke" stroke-linecap="square" stroke-linejoin="miter"/>
<path transform="matrix(1.0750,0,0,1.1125,439.475,135.175)" d="M0,4 V1 L0.7,0 H1.3 L2,1 V4 M0,2.3 H2 M4,4 V0 L6,4 V0 M8,4 V0 L10,4 V0 M14,0 H12 V4 H14 M12,2 H13.5 M16,0 L18,4 M18,0 L16,4 M20.2,0 H21.8 M21,0 V4 M20.2,4 H21.8 M24,4 V0 L26,4 V0 M34,0 H32 V4 M32,2 H33.5 M36.2,0 H37.8 M37,0 V4 M36.2,4 H37.8 M40,0 H42 M41,0 V4 M46,0.6 L45.5,0 H44.5 L44,0.6 V3.4 L44.5,4 H45.5 L46,3.4" fill="none" stroke="#2a2a2a" stroke-width="0.95" vector-effect="non-scaling-stroke" stroke-linecap="square" stroke-linejoin="miter"/>
<path transform="matrix(0.9898,0,0,1.0625,414.684,128.275)" d="M0.9,4 H1.1 M4.3,0.8 L5,0 V4 M4.2,4 H5.8" fill="none" stroke="#2a2a2a" stroke-width="0.95" vector-effect="non-scaling-stroke" stroke-linecap="square" stroke-linejoin="miter"/>
<path transform="matrix(1.1051,0,0,1.1375,500.054,128.475)" d="M0.3,0.8 L1,0 V4 M0.2,4 H1.8 M4.5,0 H5.5 L6,0.5 V3.5 L5.5,4 H4.5 L4,3.5 V0.5 Z M5.6,1 L4.4,3 M8.5,0 H9.5 L10,0.5 V3.5 L9.5,4 H8.5 L8,3.5 V0.5 Z M9.6,1 L8.4,3 M12.5,0 H13.5 L14,0.5 V3.5 L13.5,4 H12.5 L12,3.5 V0.5 Z M13.6,1 L12.4,3" fill="none" stroke="#2a2a2a" stroke-width="0.95" vector-effect="non-scaling-stroke" stroke-linecap="square" stroke-linejoin="miter"/>
<path transform="matrix(0,-0.9250,0.9875,0,410.675,126.125)" d="M0.5,0 H1.5 L2,0.5 V3.5 L1.5,4 H0.5 L0,3.5 V0.5 Z M1.6,1 L0.4,3" fill="none" stroke="#2a2a2a" stroke-width="0.95" vector-effect="non-scaling-stroke" stroke-linecap="square" stroke-linejoin="miter"/>
<path transform="matrix(1.4750,0,0,0.9125,454.375,114.575)" d="M0,0 V4 M2,0 V4 M0,2 H2" fill="none" stroke="#2a2a2a" stroke-width="1.15" vector-effect="non-scaling-stroke" stroke-linecap="square" stroke-linejoin="miter"/>
<path d="M61.5,156.6 H155.2 M61.5,249.3 H155.2" stroke="#9c9c9c" stroke-width="1.15" fill="none"/>
<path d="M62.0,156.1 V249.8" stroke="#7c7c7c" stroke-width="1.15" fill="none"/>
<path d="M154.7,156.1 V249.8" stroke="#b0b0b0" stroke-width="1.15" fill="none"/>
<path d="M106.4,245.8 V247.3 H155.0" fill="none" stroke="#a4a4a4" stroke-width="1.15"/>
<polyline points="61.8,249.0 62.2,248.3 62.5,246.7 62.9,245.8 63.2,246.4 63.6,246.4 64.0,246.8 64.3,247.7 64.7,247.0 65.0,246.2 65.4,246.4 65.8,245.7 66.1,244.2 66.5,245.6 66.8,244.6 67.2,244.2 67.6,244.9 67.9,244.7 68.3,244.4 68.6,245.3 69.0,242.1 69.4,242.7 69.7,240.8 70.1,239.5 70.4,240.8 70.8,238.8 71.2,240.2 71.5,239.0 71.9,238.6 72.2,237.6 72.6,238.0 73.0,236.8 73.3,235.4 73.7,233.7 74.0,232.6 74.4,230.2 74.8,231.6 75.1,229.7 75.5,227.2 75.8,229.0 76.2,224.5 76.6,227.1 76.9,225.3 77.3,226.1 77.6,223.2 78.0,222.1 78.4,222.0 78.7,222.7 79.1,215.8 79.4,214.1 79.8,209.7 80.2,210.4 80.5,204.5 80.9,199.1 81.2,197.4 81.6,194.1 82.0,189.0 82.3,186.2 82.7,185.7 83.0,183.2 83.4,181.2 83.8,186.4 84.1,188.1 84.5,183.6 84.8,177.6 85.2,175.6 85.6,181.6 85.9,175.6 86.3,175.6 86.6,181.5 87.0,181.9 87.4,182.9 87.7,182.1 88.1,185.5 88.4,187.4 88.8,190.7 89.2,194.9 89.5,190.7 89.9,195.5 90.2,198.0 90.6,199.9 91.0,203.3 91.3,203.4 91.7,208.2 92.0,213.2 92.4,213.3 92.8,217.0 93.1,219.0 93.5,223.3 93.8,223.6 94.2,223.0 94.6,227.0 94.9,228.1 95.3,228.4 95.6,229.0 96.0,233.2 96.4,232.2 96.7,234.4 97.1,234.1 97.4,235.7 97.8,236.4 98.2,237.4 98.5,237.6 98.9,238.0 99.2,238.3 99.6,239.5 100.0,239.0 100.3,238.3 100.7,241.1 101.0,240.9 101.4,241.9 101.8,240.6 102.1,241.2 102.5,241.6 102.8,242.5 103.2,242.2 103.6,242.0 103.9,243.6 104.3,243.9 104.6,242.6 105.0,243.4 105.4,243.2 105.7,243.6 106.1,244.0 106.4,244.2 106.8,242.8 107.2,243.3 107.5,243.4 107.9,243.0 108.2,243.0 108.6,242.8 109.0,243.9 109.3,244.8 109.7,242.5 110.0,244.0 110.4,242.9 110.8,243.3 111.1,243.1 111.5,242.3 111.8,243.2 112.2,242.2 112.6,242.2 112.9,242.1 113.3,242.1 113.6,242.3 114.0,242.7 114.4,242.9 114.7,242.4 115.1,242.8 115.4,241.9 115.8,243.7 116.2,242.6 116.5,242.2 116.9,243.3 117.2,242.0 117.6,242.1 118.0,243.5 118.3,243.7 118.7,241.9 119.0,242.5 119.4,243.4 119.8,243.4 120.1,243.0 120.5,241.9 120.8,243.2 121.2,242.2 121.6,241.9 121.9,243.5 122.3,241.9 122.6,241.9 123.0,243.0 123.4,243.7 123.7,241.9 124.1,241.9 124.4,242.3 124.8,242.5 125.2,242.0 125.5,244.0 125.9,242.5 126.2,243.2 126.6,241.9 127.0,243.4 127.3,242.8 127.7,242.4 128.0,244.3 128.4,243.5 128.8,242.8 129.1,241.9 129.5,242.5 129.8,242.6 130.2,242.6 130.6,243.1 130.9,244.0 131.3,244.9 131.6,245.4 132.0,243.7 132.4,245.6 132.7,245.6 133.1,244.5 133.4,245.3 133.8,244.8 134.2,245.6 134.5,245.2 134.9,246.0 135.2,245.2 135.6,245.8 136.0,245.1 136.3,246.1 136.7,246.7 137.0,246.5 137.4,245.7 137.8,246.2 138.1,246.4 138.5,246.5 138.8,246.3 139.2,247.2 139.6,246.7 139.9,246.2 140.3,248.0 140.6,247.4 141.0,247.8 141.4,247.3 141.7,247.4 142.1,247.7 142.4,247.7 142.8,248.3 143.2,248.0 143.5,247.5 143.9,247.9 144.2,247.9 144.6,248.5 145.0,248.3 145.3,248.9 145.7,248.6 146.0,248.6 146.4,249.0 146.8,248.6 147.1,248.9 147.5,248.5 147.8,248.8 148.2,248.9 148.6,248.9 148.9,249.0 149.3,249.0 149.6,249.0 150.0,249.0 150.4,249.0 150.7,249.0 151.1,249.0 151.4,249.0 151.8,249.0 152.2,249.0 152.5,249.0 152.9,249.0 153.2,249.0 153.6,249.0 154.0,249.0 154.3,249.0 154.7,249.0" fill="none" stroke="#666" stroke-width="1.0" stroke-linejoin="round" opacity="1.0"/>
<text transform="translate(115.25,176.50) scale(0.1503,0.1465)" font-family="Liberation Sans" font-weight="bold" font-size="100" fill="#000" stroke="#000" stroke-width="2.048076923076922" stroke-linejoin="round">14%</text>
<path d="M62.00,250.10 v1.6 M68.98,250.10 v1.0 M73.06,250.10 v1.0 M75.95,250.10 v1.0 M78.20,250.10 v1.0 M80.03,250.10 v1.0 M81.59,250.10 v1.0 M82.93,250.10 v1.0 M84.11,250.10 v1.0 M85.17,250.10 v1.6 M92.15,250.10 v1.0 M96.23,250.10 v1.0 M99.13,250.10 v1.0 M101.37,250.10 v1.0 M103.21,250.10 v1.0 M104.76,250.10 v1.0 M106.10,250.10 v1.0 M107.29,250.10 v1.0 M108.35,250.10 v1.6 M115.33,250.10 v1.0 M119.41,250.10 v1.0 M122.30,250.10 v1.0 M124.55,250.10 v1.0 M126.38,250.10 v1.0 M127.94,250.10 v1.0 M129.28,250.10 v1.0 M130.46,250.10 v1.0 M131.52,250.10 v1.6 M138.50,250.10 v1.0 M142.58,250.10 v1.0 M145.48,250.10 v1.0 M147.72,250.10 v1.0 M149.56,250.10 v1.0 M151.11,250.10 v1.0 M152.45,250.10 v1.0 M153.64,250.10 v1.0" stroke="#9a9a9a" stroke-width="0.8" fill="none"/>
<path transform="matrix(0,-1.1417,1.1125,0,53.875,163.125)" d="M0,0 H2 V0.5 L0.8,4 M5.8,0 H4.7 L4,0.8 V3.5 L4.5,4 H5.5 L6,3.5 V2.3 L5.5,1.8 H4" fill="none" stroke="#2a2a2a" stroke-width="0.95" vector-effect="non-scaling-stroke" stroke-linecap="square" stroke-linejoin="miter"/>
<path transform="matrix(0,-1.0694,1.1125,0,53.975,215.125)" d="M2,0.6 L1.5,0 H0.5 L0,0.6 V3.4 L0.5,4 H1.5 L2,3.4 M4.5,1.5 H5.5 L6,2 V3.5 L5.5,4 H4.5 L4,3.5 V2 Z M8,1.5 V3.5 L8.5,4 H10 V1.5 M12,4 V1.5 H13.5 L14,2 V4 M16.9,0.4 V3.5 L17.4,4 H18 M16,1.5 H17.9" fill="none" stroke="#2a2a2a" stroke-width="0.95" vector-effect="non-scaling-stroke" stroke-linecap="square" stroke-linejoin="miter"/>
<path transform="matrix(1.0620,0,0,1.0375,82.875,259.175)" d="M0,4 V1 L0.7,0 H1.3 L2,1 V4 M0,2.3 H2 M4,4 V0 L6,4 V0 M8,4 V0 L10,4 V0 M14,0 H12 V4 H14 M12,2 H13.5 M16,0 L18,4 M18,0 L16,4 M20.2,0 H21.8 M21,0 V4 M20.2,4 H21.8 M24,4 V0 L26,4 V0 M34,0 H32 V4 M32,2 H33.5 M36.2,0 H37.8 M37,0 V4 M36.2,4 H37.8 M40,0 H42 M41,0 V4 M46,0.6 L45.5,0 H44.5 L44,0.6 V3.4 L44.5,4 H45.5 L46,3.4" fill="none" stroke="#2a2a2a" stroke-width="0.95" vector-effect="non-scaling-stroke" stroke-linecap="square" stroke-linejoin="miter"/>
<path transform="matrix(1.1122,0,0,0.9875,57.774,252.275)" d="M0.9,4 H1.1 M4.3,0.8 L5,0 V4 M4.2,4 H5.8" fill="none" stroke="#2a2a2a" stroke-width="0.95" vector-effect="non-scaling-stroke" stroke-linecap="square" stroke-linejoin="miter"/>
<path transform="matrix(1.0906,0,0,1.0625,146.557,252.475)" d="M0.3,0.8 L1,0 V4 M0.2,4 H1.8 M4.5,0 H5.5 L6,0.5 V3.5 L5.5,4 H4.5 L4,3.5 V0.5 Z M5.6,1 L4.4,3 M8.5,0 H9.5 L10,0.5 V3.5 L9.5,4 H8.5 L8,3.5 V0.5 Z M9.6,1 L8.4,3 M12.5,0 H13.5 L14,0.5 V3.5 L13.5,4 H12.5 L12,3.5 V0.5 Z M13.6,1 L12.4,3" fill="none" stroke="#2a2a2a" stroke-width="0.95" vector-effect="non-scaling-stroke" stroke-linecap="square" stroke-linejoin="miter"/>
<path transform="matrix(0,-1.0750,1.0875,0,53.475,249.825)" d="M0.5,0 H1.5 L2,0.5 V3.5 L1.5,4 H0.5 L0,3.5 V0.5 Z M1.6,1 L0.4,3" fill="none" stroke="#2a2a2a" stroke-width="0.95" vector-effect="non-scaling-stroke" stroke-linecap="square" stroke-linejoin="miter"/>
<path transform="matrix(1.1750,0,0,0.8375,106.575,241.075)" d="M0,0 V4 M2,0 V4 M0,2 H2" fill="none" stroke="#2a2a2a" stroke-width="1.15" vector-effect="non-scaling-stroke" stroke-linecap="square" stroke-linejoin="miter"/>
<path d="M181.1,155.5 H276.9 M181.1,250.4 H276.9" stroke="#9c9c9c" stroke-width="1.15" fill="none"/>
<path d="M181.6,155.0 V250.9" stroke="#7c7c7c" stroke-width="1.15" fill="none"/>
<path d="M276.4,155.0 V250.9" stroke="#b0b0b0" stroke-width="1.15" fill="none"/>
<path d="M229.1,247.1 V248.6 H276.5" fill="none" stroke="#a4a4a4" stroke-width="1.15"/>
<polyline points="181.8,250.1 182.2,250.1 182.5,250.1 182.9,250.1 183.2,249.8 183.6,249.4 184.0,249.4 184.3,248.6 184.7,249.2 185.0,248.3 185.4,248.7 185.8,248.9 186.1,247.8 186.5,248.1 186.8,247.0 187.2,247.8 187.6,247.2 187.9,247.0 188.3,248.0 188.6,246.9 189.0,246.3 189.4,246.8 189.7,246.9 190.1,245.7 190.4,245.6 190.8,245.5 191.2,245.8 191.5,245.1 191.9,244.8 192.2,242.4 192.6,244.2 193.0,243.7 193.3,243.0 193.7,241.9 194.0,242.1 194.4,241.8 194.8,239.3 195.1,239.4 195.5,241.1 195.8,239.6 196.2,237.4 196.6,237.8 196.9,238.1 197.3,236.3 197.6,238.1 198.0,234.9 198.4,235.0 198.7,232.4 199.1,230.5 199.4,229.2 199.8,228.4 200.2,225.1 200.5,227.5 200.9,220.1 201.2,220.5 201.6,217.7 202.0,215.8 202.3,216.5 202.7,211.5 203.0,215.1 203.4,211.3 203.8,207.0 204.1,206.1 204.5,202.4 204.8,195.7 205.2,194.5 205.6,188.5 205.9,194.4 206.3,190.9 206.6,185.1 207.0,182.4 207.4,182.4 207.7,187.8 208.1,187.9 208.4,182.4 208.8,186.0 209.2,187.2 209.5,187.2 209.9,186.0 210.2,186.3 210.6,184.0 211.0,192.7 211.3,186.0 211.7,185.0 212.0,191.4 212.4,189.3 212.8,197.3 213.1,194.3 213.5,195.8 213.8,197.5 214.2,195.5 214.6,196.5 214.9,199.1 215.3,202.2 215.6,203.1 216.0,203.7 216.4,204.3 216.7,206.9 217.1,208.5 217.4,207.9 217.8,207.6 218.2,208.8 218.5,208.6 218.9,211.5 219.2,211.0 219.6,214.7 220.0,213.8 220.3,216.8 220.7,219.1 221.0,216.8 221.4,221.0 221.8,220.4 222.1,222.0 222.5,223.0 222.8,224.1 223.2,223.6 223.6,222.7 223.9,222.9 224.3,224.8 224.6,222.9 225.0,228.8 225.4,226.5 225.7,224.2 226.1,227.0 226.4,225.1 226.8,225.0 227.2,228.6 227.5,229.0 227.9,228.7 228.2,232.1 228.6,231.4 229.0,232.7 229.3,231.8 229.7,229.0 230.0,228.7 230.4,227.4 230.8,227.0 231.1,227.7 231.5,229.7 231.8,227.3 232.2,226.6 232.6,228.5 232.9,224.9 233.3,224.3 233.6,222.3 234.0,219.9 234.4,223.8 234.7,223.7 235.1,221.7 235.4,216.5 235.8,214.0 236.2,220.5 236.5,217.0 236.9,214.7 237.2,216.5 237.6,214.2 238.0,213.5 238.3,207.8 238.7,212.3 239.0,211.5 239.4,207.5 239.8,204.8 240.1,202.9 240.5,205.8 240.8,204.5 241.2,195.0 241.6,187.6 241.9,185.8 242.3,182.9 242.6,177.4 243.0,176.4 243.4,173.7 243.7,185.0 244.1,187.2 244.4,187.9 244.8,177.1 245.2,179.6 245.5,184.3 245.9,187.0 246.2,184.2 246.6,186.5 247.0,184.6 247.3,187.5 247.7,191.0 248.0,190.6 248.4,194.2 248.8,195.7 249.1,196.0 249.5,194.8 249.8,194.9 250.2,196.4 250.6,196.2 250.9,200.3 251.3,202.9 251.6,204.3 252.0,205.1 252.4,212.5 252.7,206.0 253.1,213.9 253.4,212.2 253.8,216.6 254.2,216.4 254.5,217.2 254.9,221.8 255.2,220.3 255.6,222.1 256.0,221.6 256.3,223.4 256.7,224.7 257.0,225.8 257.4,225.1 257.8,226.2 258.1,231.2 258.5,230.8 258.8,232.9 259.2,234.1 259.6,234.2 259.9,233.6 260.3,236.2 260.6,236.9 261.0,235.4 261.4,239.9 261.7,240.1 262.1,240.3 262.4,241.8 262.8,242.7 263.2,243.6 263.5,244.0 263.9,245.2 264.2,245.9 264.6,247.2 265.0,247.1 265.3,247.9 265.7,247.2 266.0,247.8 266.4,247.6 266.8,248.4 267.1,248.1 267.5,248.8 267.8,248.3 268.2,248.7 268.6,249.1 268.9,249.5 269.3,249.6 269.6,249.0 270.0,249.4 270.4,249.2 270.7,250.0 271.1,249.6 271.4,249.5 271.8,249.7 272.2,249.4 272.5,249.6 272.9,250.0 273.2,250.1 273.6,250.0 274.0,250.0 274.3,250.1 274.7,250.1 275.0,250.1 275.4,250.1 275.8,250.1 276.1,250.1 276.5,250.1" fill="none" stroke="#666" stroke-width="1.0" stroke-linejoin="round" opacity="1.0"/>
<text transform="translate(240.05,173.20) scale(0.1503,0.1451)" font-family="Liberation Sans" font-weight="bold" font-size="100" fill="#000" stroke="#000" stroke-width="2.067961165048547" stroke-linejoin="round">49%</text>
<path d="M181.60,251.20 v1.6 M188.73,251.20 v1.0 M192.91,251.20 v1.0 M195.87,251.20 v1.0 M198.17,251.20 v1.0 M200.04,251.20 v1.0 M201.63,251.20 v1.0 M203.00,251.20 v1.0 M204.22,251.20 v1.0 M205.30,251.20 v1.6 M212.43,251.20 v1.0 M216.61,251.20 v1.0 M219.57,251.20 v1.0 M221.87,251.20 v1.0 M223.74,251.20 v1.0 M225.33,251.20 v1.0 M226.70,251.20 v1.0 M227.92,251.20 v1.0 M229.00,251.20 v1.6 M236.13,251.20 v1.0 M240.31,251.20 v1.0 M243.27,251.20 v1.0 M245.57,251.20 v1.0 M247.44,251.20 v1.0 M249.03,251.20 v1.0 M250.40,251.20 v1.0 M251.62,251.20 v1.0 M252.70,251.20 v1.6 M259.83,251.20 v1.0 M264.01,251.20 v1.0 M266.97,251.20 v1.0 M269.27,251.20 v1.0 M271.14,251.20 v1.0 M272.73,251.20 v1.0 M274.10,251.20 v1.0 M275.32,251.20 v1.0" stroke="#9a9a9a" stroke-width="0.8" fill="none"/>
<path transform="matrix(0,-1.1917,1.2875,0,173.675,162.125)" d="M1.8,0 H0.7 L0,0.8 V3.5 L0.5,4 H1.5 L2,3.5 V2.3 L1.5,1.8 H0 M5.5,4 V0 L4,2.8 H6" fill="none" stroke="#2a2a2a" stroke-width="0.95" vector-effect="non-scaling-stroke" stroke-linecap="square" stroke-linejoin="miter"/>
<path transform="matrix(0,-1.0750,1.0375,0,173.875,216.325)" d="M2,0.6 L1.5,0 H0.5 L0,0.6 V3.4 L0.5,4 H1.5 L2,3.4 M4.5,1.5 H5.5 L6,2 V3.5 L5.5,4 H4.5 L4,3.5 V2 Z M8,1.5 V3.5 L8.5,4 H10 V1.5 M12,4 V1.5 H13.5 L14,2 V4 M16.9,0.4 V3.5 L17.4,4 H18 M16,1.5 H17.9" fill="none" stroke="#2a2a2a" stroke-width="0.95" vector-effect="non-scaling-stroke" stroke-linecap="square" stroke-linejoin="miter"/>
<path transform="matrix(1.0707,0,0,1.1125,202.475,259.975)" d="M0,4 V1 L0.7,0 H1.3 L2,1 V4 M0,2.3 H2 M4,4 V0 L6,4 V0 M8,4 V0 L10,4 V0 M14,0 H12 V4 H14 M12,2 H13.5 M16,0 L18,4 M18,0 L16,4 M20.2,0 H21.8 M21,0 V4 M20.2,4 H21.8 M24,4 V0 L26,4 V0 M34,0 H32 V4 M32,2 H33.5 M36.2,0 H37.8 M37,0 V4 M36.2,4 H37.8 M40,0 H42 M41,0 V4 M46,0.6 L45.5,0 H44.5 L44,0.6 V3.4 L44.5,4 H45.5 L46,3.4" fill="none" stroke="#2a2a2a" stroke-width="0.95" vector-effect="non-scaling-stroke" stroke-linecap="square" stroke-linejoin="miter"/>
<path transform="matrix(1.0510,0,0,0.9875,177.829,253.475)" d="M0.9,4 H1.1 M4.3,0.8 L5,0 V4 M4.2,4 H5.8" fill="none" stroke="#2a2a2a" stroke-width="0.95" vector-effect="non-scaling-stroke" stroke-linecap="square" stroke-linejoin="miter"/>
<path transform="matrix(1.1051,0,0,1.1375,266.254,253.675)" d="M0.3,0.8 L1,0 V4 M0.2,4 H1.8 M4.5,0 H5.5 L6,0.5 V3.5 L5.5,4 H4.5 L4,3.5 V0.5 Z M5.6,1 L4.4,3 M8.5,0 H9.5 L10,0.5 V3.5 L9.5,4 H8.5 L8,3.5 V0.5 Z M9.6,1 L8.4,3 M12.5,0 H13.5 L14,0.5 V3.5 L13.5,4 H12.5 L12,3.5 V0.5 Z M13.6,1 L12.4,3" fill="none" stroke="#2a2a2a" stroke-width="0.95" vector-effect="non-scaling-stroke" stroke-linecap="square" stroke-linejoin="miter"/>
<path transform="matrix(0,-1.0750,0.9875,0,173.875,251.325)" d="M0.5,0 H1.5 L2,0.5 V3.5 L1.5,4 H0.5 L0,3.5 V0.5 Z M1.6,1 L0.4,3" fill="none" stroke="#2a2a2a" stroke-width="0.95" vector-effect="non-scaling-stroke" stroke-linecap="square" stroke-linejoin="miter"/>
<path transform="matrix(1.4250,0,0,0.8875,230.075,242.075)" d="M0,0 V4 M2,0 V4 M0,2 H2" fill="none" stroke="#2a2a2a" stroke-width="1.15" vector-effect="non-scaling-stroke" stroke-linecap="square" stroke-linejoin="miter"/>
<path d="M299.5,156.5 H396.5 M299.5,252.0 H396.5" stroke="#9c9c9c" stroke-width="1.15" fill="none"/>
<path d="M300.0,156.0 V252.5" stroke="#7c7c7c" stroke-width="1.15" fill="none"/>
<path d="M396.0,156.0 V252.5" stroke="#b0b0b0" stroke-width="1.15" fill="none"/>
<path d="M350.1,248.7 V250.2 H396.0" fill="none" stroke="#a4a4a4" stroke-width="1.15"/>
<polyline points="300.4,251.5 300.8,249.5 301.1,249.1 301.5,249.2 301.8,249.3 302.2,249.8 302.6,250.0 302.9,249.8 303.3,249.2 303.6,249.3 304.0,249.5 304.4,249.5 304.7,248.5 305.1,248.8 305.4,248.1 305.8,247.9 306.2,248.9 306.5,247.2 306.9,246.6 307.2,246.2 307.6,245.7 308.0,245.7 308.3,246.1 308.7,246.5 309.0,243.7 309.4,243.0 309.8,243.0 310.1,242.6 310.5,242.0 310.8,241.0 311.2,239.3 311.6,241.6 311.9,239.8 312.3,240.1 312.6,237.6 313.0,236.7 313.4,233.0 313.7,233.9 314.1,235.0 314.4,231.5 314.8,229.3 315.2,228.3 315.5,225.5 315.9,228.2 316.2,222.4 316.6,220.4 317.0,220.1 317.3,217.1 317.7,215.4 318.0,213.2 318.4,216.5 318.8,210.8 319.1,213.4 319.5,208.9 319.8,210.0 320.2,200.2 320.6,198.2 320.9,193.9 321.3,187.4 321.6,184.8 322.0,180.7 322.4,179.6 322.7,179.6 323.1,178.2 323.4,168.0 323.8,171.0 324.2,165.9 324.5,165.9 324.9,170.8 325.2,173.5 325.6,179.2 326.0,182.5 326.3,177.0 326.7,184.3 327.0,183.1 327.4,185.9 327.8,185.3 328.1,185.7 328.5,186.7 328.8,190.5 329.2,192.3 329.6,187.3 329.9,194.7 330.3,192.7 330.6,198.4 331.0,197.4 331.4,207.5 331.7,206.6 332.1,208.5 332.4,209.2 332.8,213.5 333.2,217.3 333.5,216.4 333.9,219.2 334.2,221.7 334.6,223.1 335.0,228.4 335.3,225.4 335.7,228.9 336.0,229.1 336.4,230.7 336.8,228.5 337.1,231.8 337.5,232.1 337.8,234.5 338.2,234.8 338.6,234.5 338.9,237.4 339.3,234.0 339.6,237.4 340.0,238.5 340.4,238.1 340.7,239.7 341.1,241.6 341.4,241.0 341.8,242.1 342.2,240.4 342.5,241.9 342.9,244.6 343.2,244.3 343.6,242.8 344.0,243.7 344.3,243.9 344.7,246.2 345.0,245.4 345.4,243.5 345.8,245.1 346.1,245.7 346.5,244.2 346.8,246.5 347.2,245.9 347.6,246.3 347.9,247.3 348.3,247.2 348.6,246.3 349.0,247.2 349.4,247.7 349.7,247.1 350.1,248.8 350.4,247.7 350.8,248.4 351.2,247.1 351.5,245.4 351.9,245.4 352.2,245.4 352.6,246.0 353.0,246.1 353.3,245.5 353.7,247.2 354.0,245.9 354.4,245.8 354.8,246.2 355.1,246.6 355.5,246.2 355.8,246.7 356.2,245.9 356.6,245.5 356.9,245.4 357.3,246.5 357.6,246.4 358.0,246.0 358.4,246.5 358.7,245.9 359.1,247.1 359.4,246.1 359.8,245.6 360.2,245.6 360.5,245.4 360.9,244.8 361.2,245.5 361.6,245.9 362.0,244.9 362.3,245.1 362.7,245.2 363.0,245.2 363.4,245.1 363.8,245.0 364.1,245.2 364.5,246.2 364.8,245.0 365.2,244.8 365.6,244.8 365.9,245.6 366.3,244.8 366.6,244.8 367.0,244.8 367.4,246.9 367.7,245.8 368.1,246.0 368.4,245.9 368.8,246.7 369.2,244.9 369.5,244.9 369.9,245.7 370.2,246.6 370.6,246.1 371.0,247.5 371.3,248.0 371.7,246.4 372.0,247.1 372.4,247.3 372.8,246.9 373.1,246.0 373.5,246.8 373.8,247.1 374.2,246.8 374.6,248.1 374.9,247.2 375.3,247.6 375.6,247.6 376.0,247.3 376.4,247.8 376.7,248.3 377.1,248.4 377.4,248.3 377.8,247.6 378.2,249.5 378.5,248.5 378.9,249.6 379.2,249.6 379.6,249.4 380.0,249.2 380.3,250.2 380.7,250.3 381.0,250.0 381.4,251.0 381.8,250.1 382.1,251.1 382.5,251.4 382.8,251.3 383.2,251.7 383.6,251.7 383.9,251.7 384.3,251.7 384.6,251.7 385.0,251.7 385.4,251.7 385.7,251.7 386.1,251.7 386.4,251.7 386.8,251.7 387.2,251.7 387.5,251.7 387.9,251.7 388.2,251.7 388.6,251.7 389.0,251.7 389.3,251.7 389.7,251.7 390.0,251.7 390.4,251.7 390.8,251.7 391.1,251.7 391.5,251.7 391.8,251.7 392.2,251.7 392.6,251.7 392.9,251.7 393.3,251.7 393.6,251.7 394.0,251.7 394.4,251.7 394.7,251.7 395.1,251.7 395.4,251.7 395.8,251.7" fill="none" stroke="#666" stroke-width="1.0" stroke-linejoin="round" opacity="1.0"/>
<text transform="translate(357.33,177.00) scale(0.1527,0.1465)" font-family="Liberation Sans" font-weight="bold" font-size="100" fill="#000" stroke="#000" stroke-width="2.048076923076922" stroke-linejoin="round">11%</text>
<path d="M300.00,252.80 v1.6 M307.22,252.80 v1.0 M311.45,252.80 v1.0 M314.45,252.80 v1.0 M316.78,252.80 v1.0 M318.68,252.80 v1.0 M320.28,252.80 v1.0 M321.67,252.80 v1.0 M322.90,252.80 v1.0 M324.00,252.80 v1.6 M331.22,252.80 v1.0 M335.45,252.80 v1.0 M338.45,252.80 v1.0 M340.78,252.80 v1.0 M342.68,252.80 v1.0 M344.28,252.80 v1.0 M345.67,252.80 v1.0 M346.90,252.80 v1.0 M348.00,252.80 v1.6 M355.22,252.80 v1.0 M359.45,252.80 v1.0 M362.45,252.80 v1.0 M364.78,252.80 v1.0 M366.68,252.80 v1.0 M368.28,252.80 v1.0 M369.67,252.80 v1.0 M370.90,252.80 v1.0 M372.00,252.80 v1.6 M379.22,252.80 v1.0 M383.45,252.80 v1.0 M386.45,252.80 v1.0 M388.78,252.80 v1.0 M390.68,252.80 v1.0 M392.28,252.80 v1.0 M393.67,252.80 v1.0 M394.90,252.80 v1.0" stroke="#9a9a9a" stroke-width="0.8" fill="none"/>
<path transform="matrix(0,-1.2583,1.1875,0,291.975,162.825)" d="M1.8,0 H0.7 L0,0.8 V3.5 L0.5,4 H1.5 L2,3.5 V2.3 L1.5,1.8 H0 M4.5,0 H5.5 L6,0.5 V1.5 L5.5,2 H4.5 L4,1.5 V0.5 Z M4.5,2 L4,2.5 V3.5 L4.5,4 H5.5 L6,3.5 V2.5 L5.5,2" fill="none" stroke="#2a2a2a" stroke-width="0.95" vector-effect="non-scaling-stroke" stroke-linecap="square" stroke-linejoin="miter"/>
<path transform="matrix(0,-1.0750,1.0125,0,292.575,218.125)" d="M2,0.6 L1.5,0 H0.5 L0,0.6 V3.4 L0.5,4 H1.5 L2,3.4 M4.5,1.5 H5.5 L6,2 V3.5 L5.5,4 H4.5 L4,3.5 V2 Z M8,1.5 V3.5 L8.5,4 H10 V1.5 M12,4 V1.5 H13.5 L14,2 V4 M16.9,0.4 V3.5 L17.4,4 H18 M16,1.5 H17.9" fill="none" stroke="#2a2a2a" stroke-width="0.95" vector-effect="non-scaling-stroke" stroke-linecap="square" stroke-linejoin="miter"/>
<path transform="matrix(1.0707,0,0,1.1375,320.675,261.775)" d="M0,4 V1 L0.7,0 H1.3 L2,1 V4 M0,2.3 H2 M4,4 V0 L6,4 V0 M8,4 V0 L10,4 V0 M14,0 H12 V4 H14 M12,2 H13.5 M16,0 L18,4 M18,0 L16,4 M20.2,0 H21.8 M21,0 V4 M20.2,4 H21.8 M24,4 V0 L26,4 V0 M34,0 H32 V4 M32,2 H33.5 M36.2,0 H37.8 M37,0 V4 M36.2,4 H37.8 M40,0 H42 M41,0 V4 M46,0.6 L45.5,0 H44.5 L44,0.6 V3.4 L44.5,4 H45.5 L46,3.4" fill="none" stroke="#2a2a2a" stroke-width="0.95" vector-effect="non-scaling-stroke" stroke-linecap="square" stroke-linejoin="miter"/>
<path transform="matrix(1.1122,0,0,0.9125,295.774,255.475)" d="M0.9,4 H1.1 M4.3,0.8 L5,0 V4 M4.2,4 H5.8" fill="none" stroke="#2a2a2a" stroke-width="0.95" vector-effect="non-scaling-stroke" stroke-linecap="square" stroke-linejoin="miter"/>
<path transform="matrix(1.1051,0,0,1.1375,387.054,255.475)" d="M0.3,0.8 L1,0 V4 M0.2,4 H1.8 M4.5,0 H5.5 L6,0.5 V3.5 L5.5,4 H4.5 L4,3.5 V0.5 Z M5.6,1 L4.4,3 M8.5,0 H9.5 L10,0.5 V3.5 L9.5,4 H8.5 L8,3.5 V0.5 Z M9.6,1 L8.4,3 M12.5,0 H13.5 L14,0.5 V3.5 L13.5,4 H12.5 L12,3.5 V0.5 Z M13.6,1 L12.4,3" fill="none" stroke="#2a2a2a" stroke-width="0.95" vector-effect="non-scaling-stroke" stroke-linecap="square" stroke-linejoin="miter"/>
<path transform="matrix(0,-1.3750,1.1375,0,292.175,253.325)" d="M0.5,0 H1.5 L2,0.5 V3.5 L1.5,4 H0.5 L0,3.5 V0.5 Z M1.6,1 L0.4,3" fill="none" stroke="#2a2a2a" stroke-width="0.95" vector-effect="non-scaling-stroke" stroke-linecap="square" stroke-linejoin="miter"/>
<path transform="matrix(0.9750,0,0,0.9125,350.975,243.275)" d="M0,0 V4 M2,0 V4 M0,2 H2" fill="none" stroke="#2a2a2a" stroke-width="1.15" vector-effect="non-scaling-stroke" stroke-linecap="square" stroke-linejoin="miter"/>
<path d="M415.1,156.3 H510.9 M415.1,250.0 H510.9" stroke="#9c9c9c" stroke-width="1.15" fill="none"/>
<path d="M415.6,155.8 V250.5" stroke="#7c7c7c" stroke-width="1.15" fill="none"/>
<path d="M510.4,155.8 V250.5" stroke="#b0b0b0" stroke-width="1.15" fill="none"/>
<path d="M465.0,246.7 V248.2 H509.8" fill="none" stroke="#a4a4a4" stroke-width="1.15"/>
<polyline points="416.2,249.7 416.6,249.7 416.9,249.7 417.3,249.1 417.6,249.3 418.0,249.4 418.4,249.4 418.7,248.7 419.1,249.0 419.4,249.0 419.8,248.1 420.2,248.3 420.5,248.1 420.9,248.3 421.2,247.9 421.6,248.0 422.0,247.5 422.3,247.3 422.7,246.1 423.0,247.4 423.4,247.6 423.8,246.9 424.1,246.4 424.5,244.8 424.8,246.6 425.2,245.6 425.6,246.3 425.9,245.0 426.3,245.2 426.6,245.3 427.0,244.1 427.4,244.2 427.7,243.7 428.1,244.0 428.4,243.5 428.8,242.4 429.2,241.1 429.5,242.2 429.9,241.1 430.2,242.1 430.6,238.9 431.0,238.4 431.3,234.1 431.7,234.7 432.0,235.5 432.4,233.2 432.8,230.8 433.1,228.7 433.5,226.0 433.8,225.3 434.2,225.5 434.6,219.6 434.9,219.7 435.3,217.0 435.6,216.8 436.0,215.5 436.4,213.8 436.7,208.6 437.1,206.3 437.4,205.0 437.8,205.6 438.2,207.1 438.5,198.6 438.9,197.3 439.2,198.8 439.6,197.1 440.0,199.8 440.3,193.2 440.7,189.6 441.0,187.9 441.4,182.5 441.8,183.4 442.1,185.4 442.5,180.5 442.8,183.1 443.2,180.0 443.6,174.3 443.9,175.5 444.3,178.8 444.6,176.7 445.0,178.8 445.4,178.0 445.7,177.1 446.1,174.9 446.4,176.7 446.8,172.6 447.2,175.8 447.5,175.7 447.9,176.0 448.2,173.6 448.6,172.0 449.0,172.0 449.3,184.4 449.7,186.8 450.0,184.3 450.4,192.6 450.8,193.3 451.1,195.1 451.5,194.8 451.8,200.5 452.2,198.7 452.6,199.9 452.9,203.8 453.3,198.8 453.6,204.6 454.0,204.1 454.4,208.1 454.7,205.6 455.1,210.3 455.4,205.1 455.8,212.2 456.2,209.4 456.5,211.7 456.9,209.6 457.2,213.6 457.6,216.1 458.0,218.0 458.3,216.2 458.7,222.1 459.0,224.6 459.4,218.7 459.8,223.5 460.1,224.8 460.5,225.2 460.8,225.4 461.2,226.9 461.6,229.4 461.9,226.6 462.3,230.4 462.6,226.8 463.0,227.8 463.4,228.6 463.7,230.5 464.1,230.3 464.4,229.1 464.8,234.2 465.2,230.6 465.5,233.3 465.9,234.5 466.2,233.2 466.6,230.1 467.0,234.2 467.3,228.4 467.7,228.9 468.0,228.2 468.4,228.1 468.8,228.1 469.1,225.7 469.5,225.8 469.8,224.3 470.2,223.6 470.6,223.7 470.9,218.2 471.3,215.6 471.6,214.9 472.0,210.1 472.4,208.5 472.7,207.4 473.1,213.5 473.4,213.9 473.8,211.6 474.2,214.9 474.5,211.8 474.9,215.7 475.2,214.5 475.6,212.6 476.0,211.3 476.3,213.0 476.7,210.1 477.0,210.0 477.4,207.4 477.8,205.4 478.1,204.0 478.5,200.8 478.8,205.7 479.2,201.7 479.6,201.6 479.9,205.0 480.3,205.0 480.6,207.5 481.0,206.5 481.4,207.0 481.7,211.3 482.1,210.5 482.4,214.3 482.8,212.0 483.2,211.6 483.5,213.5 483.9,212.4 484.2,214.1 484.6,216.8 485.0,217.9 485.3,217.7 485.7,215.7 486.0,222.6 486.4,221.7 486.8,222.9 487.1,224.9 487.5,223.8 487.8,225.0 488.2,225.0 488.6,226.4 488.9,227.5 489.3,223.6 489.6,227.1 490.0,232.2 490.4,231.1 490.7,235.4 491.1,235.7 491.4,236.3 491.8,236.2 492.2,239.5 492.5,238.1 492.9,238.0 493.2,239.3 493.6,240.2 494.0,240.0 494.3,242.2 494.7,242.5 495.0,243.3 495.4,243.3 495.8,244.0 496.1,244.6 496.5,244.5 496.8,245.5 497.2,245.2 497.6,247.3 497.9,247.8 498.3,247.8 498.6,247.3 499.0,248.3 499.4,248.7 499.7,249.1 500.1,249.3 500.4,249.7 500.8,249.7 501.2,249.7 501.5,249.7 501.9,249.7 502.2,249.7 502.6,249.7 503.0,249.7 503.3,249.7 503.7,249.7 504.0,249.7 504.4,249.7 504.8,249.7 505.1,249.7 505.5,249.7 505.8,249.7 506.2,249.7 506.6,249.7 506.9,249.7 507.3,249.7 507.6,249.7 508.0,249.7 508.4,249.7 508.7,249.7 509.1,249.7 509.4,249.7 509.8,249.7" fill="none" stroke="#666" stroke-width="1.0" stroke-linejoin="round" opacity="1.0"/>
<text transform="translate(468.95,177.30) scale(0.1523,0.1465)" font-family="Liberation Sans" font-weight="bold" font-size="100" fill="#000" stroke="#000" stroke-width="2.048076923076928" stroke-linejoin="round">36%</text>
<path d="M415.60,250.80 v1.6 M422.73,250.80 v1.0 M426.91,250.80 v1.0 M429.87,250.80 v1.0 M432.17,250.80 v1.0 M434.04,250.80 v1.0 M435.63,250.80 v1.0 M437.00,250.80 v1.0 M438.22,250.80 v1.0 M439.30,250.80 v1.6 M446.43,250.80 v1.0 M450.61,250.80 v1.0 M453.57,250.80 v1.0 M455.87,250.80 v1.0 M457.74,250.80 v1.0 M459.33,250.80 v1.0 M460.70,250.80 v1.0 M461.92,250.80 v1.0 M463.00,250.80 v1.6 M470.13,250.80 v1.0 M474.31,250.80 v1.0 M477.27,250.80 v1.0 M479.57,250.80 v1.0 M481.44,250.80 v1.0 M483.03,250.80 v1.0 M484.40,250.80 v1.0 M485.62,250.80 v1.0 M486.70,250.80 v1.6 M493.83,250.80 v1.0 M498.01,250.80 v1.0 M500.97,250.80 v1.0 M503.27,250.80 v1.0 M505.14,250.80 v1.0 M506.73,250.80 v1.0 M508.10,250.80 v1.0 M509.32,250.80 v1.0" stroke="#9a9a9a" stroke-width="0.8" fill="none"/>
<path transform="matrix(0,-1.2750,1.2625,0,407.475,163.125)" d="M2,0 H0 V1.8 H1.5 L2,2.3 V3.5 L1.5,4 H0.5 L0,3.5 M5.8,0 H4.7 L4,0.8 V3.5 L4.5,4 H5.5 L6,3.5 V2.3 L5.5,1.8 H4" fill="none" stroke="#2a2a2a" stroke-width="0.95" vector-effect="non-scaling-stroke" stroke-linecap="square" stroke-linejoin="miter"/>
<path transform="matrix(0,-1.0750,1.0125,0,407.575,216.325)" d="M2,0.6 L1.5,0 H0.5 L0,0.6 V3.4 L0.5,4 H1.5 L2,3.4 M4.5,1.5 H5.5 L6,2 V3.5 L5.5,4 H4.5 L4,3.5 V2 Z M8,1.5 V3.5 L8.5,4 H10 V1.5 M12,4 V1.5 H13.5 L14,2 V4 M16.9,0.4 V3.5 L17.4,4 H18 M16,1.5 H17.9" fill="none" stroke="#2a2a2a" stroke-width="0.95" vector-effect="non-scaling-stroke" stroke-linecap="square" stroke-linejoin="miter"/>
<path transform="matrix(1.0641,0,0,1.0875,438.275,259.675)" d="M0,4 V1 L0.7,0 H1.3 L2,1 V4 M0,2.3 H2 M4,4 V0 L6,4 V0 M8,4 V0 L10,4 V0 M14,0 H12 V4 H14 M12,2 H13.5 M16,0 L18,4 M18,0 L16,4 M20.2,0 H21.8 M21,0 V4 M20.2,4 H21.8 M24,4 V0 L26,4 V0 M34,0 H32 V4 M32,2 H33.5 M36.2,0 H37.8 M37,0 V4 M36.2,4 H37.8 M40,0 H42 M41,0 V4 M46,0.6 L45.5,0 H44.5 L44,0.6 V3.4 L44.5,4 H45.5 L46,3.4" fill="none" stroke="#2a2a2a" stroke-width="0.95" vector-effect="non-scaling-stroke" stroke-linecap="square" stroke-linejoin="miter"/>
<path transform="matrix(0.9490,0,0,1.0625,413.521,252.875)" d="M0.9,4 H1.1 M4.3,0.8 L5,0 V4 M4.2,4 H5.8" fill="none" stroke="#2a2a2a" stroke-width="0.95" vector-effect="non-scaling-stroke" stroke-linecap="square" stroke-linejoin="miter"/>
<path transform="matrix(1.0906,0,0,1.0125,504.257,253.275)" d="M0.3,0.8 L1,0 V4 M0.2,4 H1.8 M4.5,0 H5.5 L6,0.5 V3.5 L5.5,4 H4.5 L4,3.5 V0.5 Z M5.6,1 L4.4,3 M8.5,0 H9.5 L10,0.5 V3.5 L9.5,4 H8.5 L8,3.5 V0.5 Z M9.6,1 L8.4,3 M12.5,0 H13.5 L14,0.5 V3.5 L13.5,4 H12.5 L12,3.5 V0.5 Z M13.6,1 L12.4,3" fill="none" stroke="#2a2a2a" stroke-width="0.95" vector-effect="non-scaling-stroke" stroke-linecap="square" stroke-linejoin="miter"/>
<path transform="matrix(0,-1.0750,1.0625,0,407.075,251.325)" d="M0.5,0 H1.5 L2,0.5 V3.5 L1.5,4 H0.5 L0,3.5 V0.5 Z M1.6,1 L0.4,3" fill="none" stroke="#2a2a2a" stroke-width="0.95" vector-effect="non-scaling-stroke" stroke-linecap="square" stroke-linejoin="miter"/>
<path transform="matrix(1.4750,0,0,0.9125,466.375,241.575)" d="M0,0 V4 M2,0 V4 M0,2 H2" fill="none" stroke="#2a2a2a" stroke-width="1.15" vector-effect="non-scaling-stroke" stroke-linecap="square" stroke-linejoin="miter"/>
</svg>
</body></html>
